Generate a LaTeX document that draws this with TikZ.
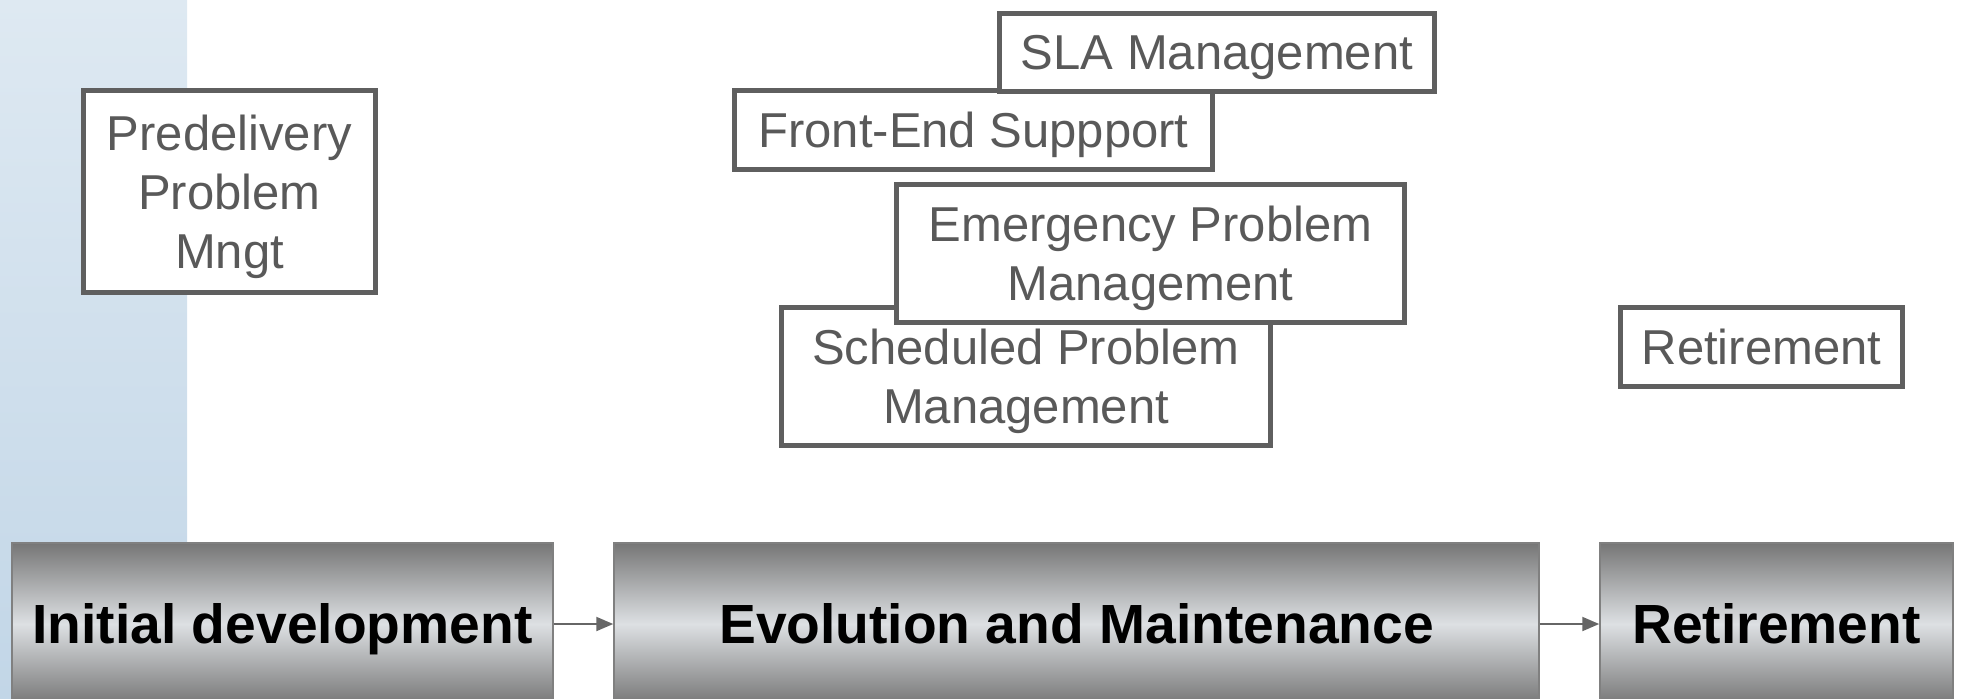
\documentclass[tikz,border=0pt]{standalone}
\usepackage{fontspec}
\setmainfont{Liberation Sans}
\usepackage{tikz}
\usetikzlibrary{arrows.meta}

\definecolor{boxline}{HTML}{5F5F5F}
\definecolor{tasktext}{HTML}{595959}
\definecolor{phaseline}{HTML}{808080}
\definecolor{phasedark}{HTML}{767676}
\definecolor{phaselight}{HTML}{DDE0E3}
\definecolor{arrowgray}{HTML}{666666}
\definecolor{bandtop}{HTML}{DEE9F2}
\definecolor{bandbot}{HTML}{C2D6E7}

\begin{document}
\begin{tikzpicture}[x=0.5pt,y=-0.5pt]

    % --- DEFINE STYLES ---
    % Style for the activity boxes
    \tikzstyle{task} = [draw=boxline, line width=2.5pt, fill=white, text=tasktext, align=center, inner sep=0pt, text depth=0pt, font=\fontsize{24.5}{29.5}\selectfont]
    % Style for the lifecycle phases
    \tikzstyle{phase} = [draw=phaseline, line width=0.75pt, top color=phasedark, bottom color=phasedark, middle color=phaselight, font=\bfseries\fontsize{27.6}{33}\selectfont, minimum height=81pt, inner sep=0pt, text height=19.8pt, text depth=0pt]
    % Style for the arrows between phases
    \tikzstyle{flow} = [draw=arrowgray, line width=1pt, -{Triangle[length=8.5pt,width=7pt]}]

    \useasboundingbox (0,0) rectangle (1961,698);

    % Background band
    \shade[top color=bandtop, bottom color=bandbot] (0,0) rectangle (187,698);

    % --- PHASES ---
    \node[phase, minimum width=270.5pt] (initdev) at (282.5,624) {Initial development};
    \node[phase, minimum width=462.5pt] (evol) at (1076.5,624) {Evolution and Maintenance};
    \node[phase, minimum width=176.5pt] (retire) at (1776.5,624) {Retirement};

    \foreach \a/\b in {initdev/evol, evol/retire} {
        \draw[flow] (\a.east) -- (\b.west);
    }

    % --- ACTIVITIES ---
    \node[task, minimum width=146pt, minimum height=101pt] (predel) at (229.5,191.5) {Predelivery\\Problem\\Mngt};

    % Front-End first, SLA on top of it
    \node[task, minimum width=239pt, minimum height=39.5pt] (frontend) at (973.5,130) {Front-End Suppport};
    \node[task, minimum width=217.5pt, minimum height=39pt] (sla) at (1217,52) {SLA Management};

    % Scheduled first, Emergency on top of it
    \node[task, minimum width=244.5pt, minimum height=69pt] (sched) at (1026,376.5) {Scheduled Problem\\Management};
    \node[task, minimum width=254pt, minimum height=69pt] (emerg) at (1150.5,253.5) {Emergency Problem\\Management};

    \node[task, minimum width=141pt, minimum height=39.5pt] (retiretask) at (1761.5,347) {Retirement};

\end{tikzpicture}
\end{document}
